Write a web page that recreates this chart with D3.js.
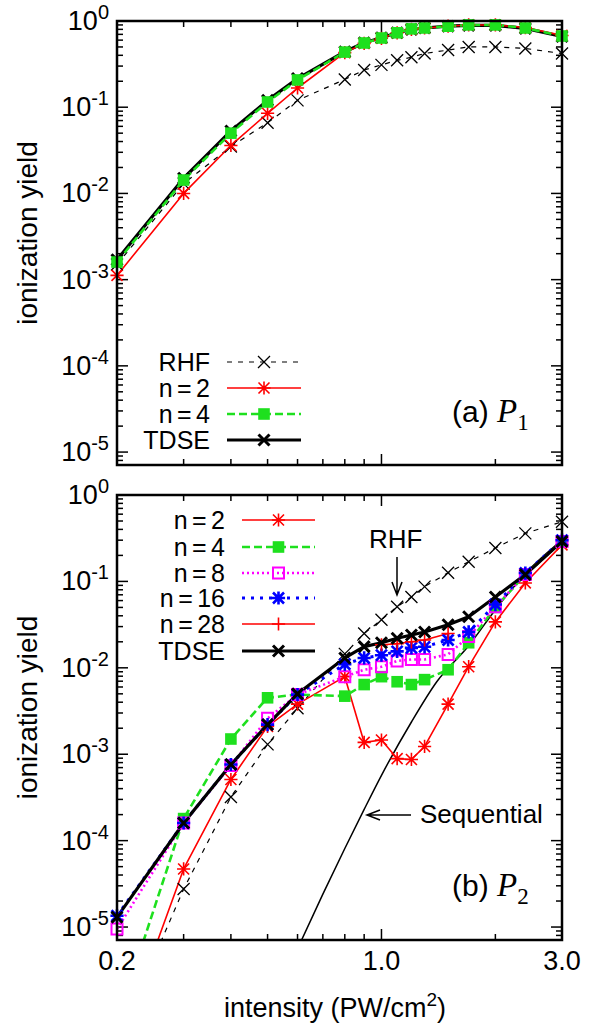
<!DOCTYPE html>
<html>
<head>
<meta charset="utf-8">
<style>
     body {
          margin: 0;
          background: #fff;
     }
     svg {
          display: block;
          font-family: "Liberation Sans", Arial, Helvetica, sans-serif;
     }
     .frame {
          fill: none;
          stroke: #000;
          stroke-width: 2.5;
     }
     .tick {
          stroke: #000;
          stroke-width: 1.5;
     }
     .lbl {
          font-size: 26px;
          fill: #000;
     }
     .legend-text {
          font-size: 25px;
          word-spacing: -2.5px;
     }
</style>
</head>
<body>
<script src="https://cdn.jsdelivr.net/npm/d3@7"></script>
<script>

     // intensities (PW/cm^2) used in both panels
     var intensity = [0.2, 0.3, 0.4, 0.5, 0.6, 0.8, 0.9, 1.0, 1.1, 1.2, 1.3, 1.5, 1.7, 2.0, 2.4, 3.0];

     // panel (a) P1
     var p1RHF  = [1.5e-3, 0.013, 0.035, 0.066, 0.12, 0.21, 0.27, 0.31, 0.35, 0.38, 0.42, 0.46, 0.50, 0.50, 0.48, 0.42];
     var p1N2   = [1.12e-3, 0.010, 0.036, 0.085, 0.167, 0.43, 0.55, 0.63, 0.73, 0.80, 0.83, 0.87, 0.90, 0.90, 0.84, 0.68];
     var p1N4   = [1.6e-3, 0.0143, 0.050, 0.115, 0.207, 0.436, 0.556, 0.635, 0.73, 0.81, 0.83, 0.87, 0.90, 0.90, 0.83, 0.67];
     var p1TDSE = [1.7e-3, 0.0150, 0.053, 0.12, 0.215, 0.44, 0.56, 0.64, 0.73, 0.80, 0.83, 0.87, 0.89, 0.89, 0.82, 0.66];

     // panel (b) P2
     var p2RHF  = [4.5e-7, 2.75e-5, 3.2e-4, 1.3e-3, 3.4e-3, 0.0145, 0.025, 0.036, 0.051, 0.066, 0.087, 0.126, 0.169, 0.244, 0.36, 0.49];
     var p2N2   = [3.5e-7, 4.7e-5, 5.1e-4, 2.1e-3, 3.8e-3, 7.9e-3, 1.37e-3, 1.46e-3, 8.9e-4, 8.7e-4, 1.23e-3, 3.8e-3, 1.03e-2, 3.4e-2, 0.096, 0.265];
     var p2N4   = [8e-7, 1.8e-4, 1.5e-3, 4.5e-3, 4.9e-3, 4.7e-3, 6.4e-3, 7.9e-3, 6.9e-3, 6.4e-3, 7.3e-3, 9.5e-3, 1.95e-2, 0.05, 0.12, 0.29];
     var p2N8   = [9.5e-6, 1.6e-4, 7.4e-4, 2.6e-3, 4.9e-3, 7.9e-3, 9.5e-3, 1.03e-2, 1.2e-2, 1.25e-2, 1.25e-2, 1.43e-2, 2.3e-2, 5.1e-2, 0.12, 0.29];
     var p2N16  = [1.35e-5, 1.6e-4, 7.6e-4, 2.2e-3, 4.9e-3, 1.1e-2, 1.3e-2, 1.4e-2, 1.55e-2, 1.7e-2, 1.75e-2, 2.1e-2, 2.6e-2, 5.4e-2, 0.125, 0.30];
     var p2TDSE = [1.3e-5, 1.6e-4, 7.6e-4, 2.2e-3, 5.0e-3, 1.3e-2, 1.76e-2, 1.95e-2, 2.2e-2, 2.4e-2, 2.6e-2, 3.15e-2, 3.9e-2, 6.6e-2, 0.12, 0.29];
     var n28Intensity = [1.0, 1.1, 1.2, 1.3, 1.5];
     var p2N28  = [1.85e-2, 1.9e-2, 2.0e-2, 2.1e-2, 2.5e-2];

     // sequential double ionization curve
     var seqIntensity = [0.6, 0.7, 0.8, 0.9, 1.0, 1.2, 1.4, 1.7, 2.0, 2.4, 3.0];
     var seqYield     = [5.6e-6, 2.4e-5, 8.1e-5, 2.3e-4, 5.7e-4, 2.36e-3, 6.9e-3, 1.8e-2, 4.7e-2, 0.123, 0.30];

     // axis ticks
     var xTickValues = [0.2, 0.3, 0.4, 0.5, 0.6, 0.7, 0.8, 0.9, 1.0, 2.0, 3.0];
     var xTickLabels = [0.2, 1.0, 3.0];
     var yDecades = [-5, -4, -3, -2, -1, 0];

     var width = 589, height = 1026;
     var left = 117, right = 562;
     var yMin = Math.pow(10, -5.15);

     var svg = d3.select("body").append("svg")
          .attr("width", width)
          .attr("height", height);

     var x = d3.scaleLog()
          .domain([0.2, 3.0])
          .range([left, right]);

     function zip(xs, ys) {
          return xs.map(function(v, i) { return [v, ys[i]]; });
     }

     function markerPath(type, s) {
          var p = "";
          if (type == "x" || type == "*")
               p += "M" + (-s) + "," + (-s) + "L" + s + "," + s + "M" + (-s) + "," + s + "L" + s + "," + (-s);
          if (type == "+" || type == "*")
               p += "M" + (-s * 1.2) + ",0H" + (s * 1.2) + "M0," + (-s * 1.2) + "V" + (s * 1.2);
          if (type == "sq")
               p = "M" + (-s) + "," + (-s) + "H" + s + "V" + s + "H" + (-s) + "Z";
          return p;
     }

     var green = "#1ee01e";

     var styles = {
          rhf:  {color: "#000", width: 1.2, dash: "5,6", marker: "x", size: 6, mw: 1.3, fill: "none"},
          n2:   {color: "#f00", width: 1.6, dash: null, marker: "*", size: 5.5, mw: 1.6, fill: "none"},
          n4:   {color: green, width: 2.6, dash: "8,4", marker: "sq", size: 5.8, mw: 0, fill: green},
          n8:   {color: "#f0f", width: 2.6, dash: "2,3", marker: "sq", size: 5.5, mw: 2, fill: "none"},
          n16:  {color: "#00f", width: 3, dash: "3,6", marker: "*", size: 5.5, mw: 2.6, fill: "none"},
          n28:  {color: "#f00", width: 1.6, dash: null, marker: "+", size: 5.5, mw: 1.6, fill: "none"},
          tdse: {color: "#000", width: 3.2, dash: null, marker: "x", size: 5.5, mw: 3, fill: "none"},
          seq:  {color: "#000", width: 1.5, dash: null, marker: null}
     };

     function drawMarker(g, st, px, py) {
          g.append("path")
               .attr("transform", "translate(" + px + "," + py + ")")
               .attr("d", markerPath(st.marker, st.size))
               .attr("fill", st.fill)
               .attr("stroke", st.mw ? st.color : "none")
               .attr("stroke-width", st.mw);
     }

     function makePanel(top, bottom, id) {
          var y = d3.scaleLog()
               .domain([yMin, 1])
               .range([bottom, top]);

          var g = svg.append("g");

          svg.append("clipPath")
               .attr("id", id)
            .append("rect")
               .attr("x", left)
               .attr("y", top)
               .attr("width", right - left)
               .attr("height", bottom - top);

          // x ticks (bottom and mirrored top)
          xTickValues.forEach(function(v) {
               var len = xTickLabels.indexOf(v) >= 0 ? 11 : 6;
               g.append("line").attr("class", "tick")
                    .attr("x1", x(v)).attr("x2", x(v))
                    .attr("y1", bottom).attr("y2", bottom - len);
               g.append("line").attr("class", "tick")
                    .attr("x1", x(v)).attr("x2", x(v))
                    .attr("y1", top).attr("y2", top + len);
          });

          // y ticks (left and mirrored right)
          var yTicks = [];
          yDecades.forEach(function(e) {
               for (var k = 1; k <= 9; k++) {
                    var v = k * Math.pow(10, e);
                    if (v >= yMin && v <= 1.0001) yTicks.push({v: v, major: k == 1});
               }
          });
          yTicks.push({v: 8e-6, major: false}, {v: 9e-6, major: false});
          yTicks.forEach(function(t) {
               var len = t.major ? 11 : 6;
               g.append("line").attr("class", "tick")
                    .attr("x1", left).attr("x2", left + len)
                    .attr("y1", y(t.v)).attr("y2", y(t.v));
               g.append("line").attr("class", "tick")
                    .attr("x1", right).attr("x2", right - len)
                    .attr("y1", y(t.v)).attr("y2", y(t.v));
          });

          // y tick labels 10^n
          yDecades.forEach(function(e) {
               var t = g.append("text")
                    .attr("class", "lbl")
                    .attr("x", 109)
                    .attr("y", y(Math.pow(10, e)) + 9)
                    .attr("text-anchor", "end")
                    .style("font-size", "27px");
               t.append("tspan").text("10");
               t.append("tspan")
                    .attr("dy", -11)
                    .style("font-size", "20px")
                    .text(e == 0 ? "0" : "-" + (-e));
          });

          g.append("text")
               .attr("class", "lbl")
               .attr("transform", "translate(37," + ((top + bottom) / 2 - 10) + ") rotate(-90)")
               .attr("text-anchor", "middle")
               .style("font-size", "28px")
               .text("ionization yield");

          var plot = g.append("g").attr("clip-path", "url(#" + id + ")");
          var marks = g.append("g");

          var line = d3.line()
               .x(function(d) { return x(d[0]); })
               .y(function(d) { return y(d[1]); });

          function series(data, st, curve) {
               plot.append("path")
                    .datum(data)
                    .attr("fill", "none")
                    .attr("stroke", st.color)
                    .attr("stroke-width", st.width)
                    .attr("stroke-dasharray", st.dash)
                    .attr("stroke-linejoin", "round")
                    .attr("d", line.curve(curve || d3.curveLinear)(data));
               if (st.marker) {
                    data.filter(function(d) { return d[1] >= yMin; })
                         .forEach(function(d) { drawMarker(marks, st, x(d[0]), y(d[1])); });
               }
          }

          g.append("rect")
               .attr("class", "frame")
               .attr("x", left)
               .attr("y", top)
               .attr("width", right - left)
               .attr("height", bottom - top);

          return {g: g, y: y, series: series};
     }

     function legend(g, entries, textX, lineX0, lineX1, rowY) {
          entries.forEach(function(e, i) {
               var ly = rowY[i];
               g.append("text")
                    .attr("class", "lbl legend-text")
                    .attr("x", textX)
                    .attr("y", ly + 9)
                    .attr("text-anchor", "end")
                    .text(e.name);
               g.append("line")
                    .attr("x1", lineX0).attr("x2", lineX1)
                    .attr("y1", ly).attr("y2", ly)
                    .attr("stroke", e.st.color)
                    .attr("stroke-width", e.st.width)
                    .attr("stroke-dasharray", e.st.dash);
               drawMarker(g, e.st, (lineX0 + lineX1) / 2, ly);
          });
     }

     function panelLabel(g, letter, sub, baseY) {
          var t = g.append("text")
               .attr("class", "lbl")
               .attr("x", 452)
               .attr("y", baseY)
               .style("font-size", "30px");
          t.append("tspan").text("(" + letter + ") ");
          t.append("tspan")
               .style("font-family", "'Liberation Serif', 'Times New Roman', serif")
               .style("font-style", "italic")
               .style("font-size", "33px")
               .text("P");
          t.append("tspan")
               .style("font-family", "'Liberation Serif', 'Times New Roman', serif")
               .style("font-size", "23px")
               .attr("dy", 8)
               .text(sub);
     }

     // ---- panel (a)
     var pa = makePanel(21, 465, "clipA");
     pa.series(zip(intensity, p1TDSE), styles.tdse);
     pa.series(zip(intensity, p1RHF), styles.rhf);
     pa.series(zip(intensity, p1N2), styles.n2);
     pa.series(zip(intensity, p1N4), styles.n4);

     legend(pa.g, [
          {name: "RHF", st: styles.rhf},
          {name: "n = 2", st: styles.n2},
          {name: "n = 4", st: styles.n4},
          {name: "TDSE", st: styles.tdse}
     ], 210, 227, 301, [362, 388, 414, 440]);

     panelLabel(pa.g, "a", "1", 422);

     // ---- panel (b)
     var pb = makePanel(495, 940, "clipB");
     pb.series(zip(intensity, p2RHF), styles.rhf);
     pb.series(zip(seqIntensity, seqYield), styles.seq, d3.curveMonotoneX);
     pb.series(zip(intensity, p2N2), styles.n2);
     pb.series(zip(intensity, p2N4), styles.n4);
     pb.series(zip(intensity, p2N8), styles.n8);
     pb.series(zip(intensity, p2N16), styles.n16);
     pb.series(zip(n28Intensity, p2N28), styles.n28);
     pb.series(zip(intensity, p2TDSE), styles.tdse);

     legend(pb.g, [
          {name: "n = 2", st: styles.n2},
          {name: "n = 4", st: styles.n4},
          {name: "n = 8", st: styles.n8},
          {name: "n = 16", st: styles.n16},
          {name: "n = 28", st: styles.n28},
          {name: "TDSE", st: styles.tdse}
     ], 225, 242, 315, [520, 547, 573, 598, 624, 651]);

     panelLabel(pb.g, "b", "2", 896);

     // annotations
     pb.g.append("text").attr("class", "lbl")
          .attr("x", 369).attr("y", 548)
          .text("RHF");
     pb.g.append("path")
          .attr("d", "M397,557V595M392,582L397,595L402,582")
          .attr("fill", "none")
          .attr("stroke", "#000")
          .attr("stroke-width", 1.5);

     pb.g.append("text").attr("class", "lbl")
          .attr("x", 420).attr("y", 823)
          .text("Sequential");
     pb.g.append("path")
          .attr("d", "M411,815H367M380,810L367,815L380,820")
          .attr("fill", "none")
          .attr("stroke", "#000")
          .attr("stroke-width", 1.5);

     // x tick labels and axis title
     xTickLabels.forEach(function(v) {
          svg.append("text")
               .attr("class", "lbl")
               .attr("x", x(v))
               .attr("y", 970)
               .attr("text-anchor", "middle")
               .style("font-size", "27px")
               .text(v.toFixed(1));
     });

     var xt = svg.append("text")
          .attr("class", "lbl")
          .attr("x", 335)
          .attr("y", 1017)
          .attr("text-anchor", "middle")
          .style("font-size", "27px");
     xt.append("tspan").text("intensity (PW/cm");
     xt.append("tspan").attr("dy", -11).style("font-size", "19px").text("2");
     xt.append("tspan").attr("dy", 11).text(")");

</script>
</body>
</html>
